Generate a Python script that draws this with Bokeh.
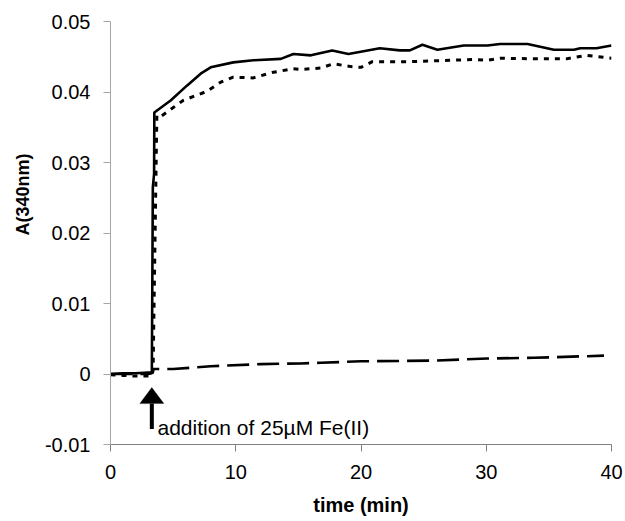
from bokeh.plotting import figure
from bokeh.models import Range1d, FixedTicker, PolyAnnotation, Label, Title
from bokeh.embed import file_html
from bokeh.resources import INLINE

# ---- data ----
t_solid = [0, 1, 2, 3, 3.3, 3.38, 3.48, 3.5, 4.8, 6.1, 7.2, 8.0, 9.8, 11.4, 13.6,
           14.6, 16.0, 17.7, 19.0, 21.5, 23.1, 23.9, 24.9, 26.1, 28.2, 30.1,
           31.1, 33.3, 35.4, 37.0, 37.5, 38.8, 40]
a_solid = [0, 0.0001, 0.0001, 0.0002, 0.0002, 0.0265, 0.0284, 0.0371, 0.0388,
           0.0409, 0.0426, 0.0435, 0.0442, 0.0445, 0.0447, 0.0454, 0.0452,
           0.0459, 0.0454, 0.0462, 0.0459, 0.0459, 0.0467, 0.0460, 0.0466,
           0.0466, 0.0468, 0.0468, 0.0460, 0.0460, 0.0462, 0.0462, 0.0466]

t_dot = [0, 1, 2, 3, 3.3, 3.4, 3.7, 4.0, 5.8, 7.7, 8.8, 9.8, 11.4, 13.0, 14.6,
         15.2, 16.8, 17.8, 19.2, 20.0, 20.9, 23.9, 27.1, 29.0, 30.1, 31.1,
         33.8, 36.4, 38.0, 40]
a_dot = [-0.0001, -0.0002, -0.0003, -0.0003, -0.0003, 0.0005, 0.0367, 0.0365,
         0.0388, 0.0401, 0.0414, 0.0421, 0.0420, 0.0428, 0.0433, 0.0432,
         0.0434, 0.0440, 0.0436, 0.0435, 0.0443, 0.0443, 0.0445, 0.0446,
         0.0445, 0.0448, 0.0447, 0.0447, 0.0452, 0.0448]

t_dash = [0, 1, 2, 3, 3.3, 3.4, 5.0, 8.0, 12.0, 15.2, 16.8, 20.0, 25.8, 30.1,
          33.8, 39.4]
a_dash = [0, 0, 0, 0, 0.0001, 0.0007, 0.0007, 0.0011, 0.0014, 0.0015, 0.0016,
          0.0018, 0.0019, 0.0022, 0.0023, 0.0026]

x_ticks = [0, 10, 20, 30, 40]
y_ticks = [-0.01, 0, 0.01, 0.02, 0.03, 0.04, 0.05]
y_tick_labels = ["-0.01", "0", "0.01", "0.02", "0.03", "0.04", "0.05"]

x_label = "time (min)"
y_label = "A(340nm)"
note = "addition of 25\u00b5M Fe(II)"
arrow_t = 3.3
arrow_tip = -0.0019
arrow_base = -0.0042
arrow_tail = -0.0078
arrow_half_w = 0.96
note_x = 3.75
note_y = -0.0076

FONT = "Liberation Sans"

p = figure(width=623, height=519, output_backend="svg", toolbar_location=None,
           x_range=Range1d(0, 40), y_range=Range1d(-0.01, 0.05),
           min_border_left=110, min_border_right=12, min_border_top=21,
           min_border_bottom=75)
p.outline_line_color = None
p.grid.visible = False
p.background_fill_color = "white"
p.border_fill_color = "white"

# x axis
xa = p.xaxis[0]
xa.ticker = FixedTicker(ticks=x_ticks)
xa.axis_line_color = "#808080"
xa.major_tick_line_color = "#808080"
xa.major_tick_in = 0
xa.major_tick_out = 7
xa.minor_tick_line_color = None
xa.major_label_text_font = FONT
xa.major_label_text_font_size = "20px"
xa.major_label_text_color = "black"
xa.major_label_standoff = 13
xa.axis_label = x_label
xa.axis_label_text_font = FONT
xa.axis_label_text_font_size = "20px"
xa.axis_label_text_font_style = "bold"
xa.axis_label_text_color = "black"
xa.axis_label_standoff = 12

# y axis
ya = p.yaxis[0]
ya.ticker = FixedTicker(ticks=y_ticks)
ya.major_label_overrides = dict(zip(y_ticks, y_tick_labels))
ya.axis_line_color = "#a6a6a6"
ya.major_tick_line_color = "#a6a6a6"
ya.major_tick_in = 0
ya.major_tick_out = 7
ya.minor_tick_line_color = None
ya.major_label_text_font = FONT
ya.major_label_text_font_size = "20px"
ya.major_label_text_color = "black"
ya.major_label_standoff = 13

# y axis title, shifted upward like the reference
p.add_layout(Title(text=y_label, text_font=FONT, text_font_size="18px",
                   text_font_style="bold", text_color="black",
                   align="left", offset=209, standoff=17), "left")

# series
p.line(t_dash, a_dash, line_color="black", line_width=2.6, line_dash="22 8")
p.line(t_dot, a_dot, line_color="black", line_width=3, line_dash="5 6")
p.line(t_solid, a_solid, line_color="black", line_width=2.6)

# arrow
p.segment(x0=[arrow_t], y0=[arrow_base], x1=[arrow_t], y1=[arrow_tail],
          line_color="black", line_width=4)
p.add_layout(PolyAnnotation(xs=[arrow_t - arrow_half_w, arrow_t, arrow_t + arrow_half_w],
                            ys=[arrow_base, arrow_tip, arrow_base],
                            fill_color="black", fill_alpha=1.0,
                            line_color="black", line_width=1))
p.add_layout(Label(x=note_x, y=note_y, text=note, text_font=FONT,
                   text_font_size="21px", text_color="black",
                   text_baseline="middle", text_align="left"))

open("out.html", "w").write(file_html(p, INLINE))
